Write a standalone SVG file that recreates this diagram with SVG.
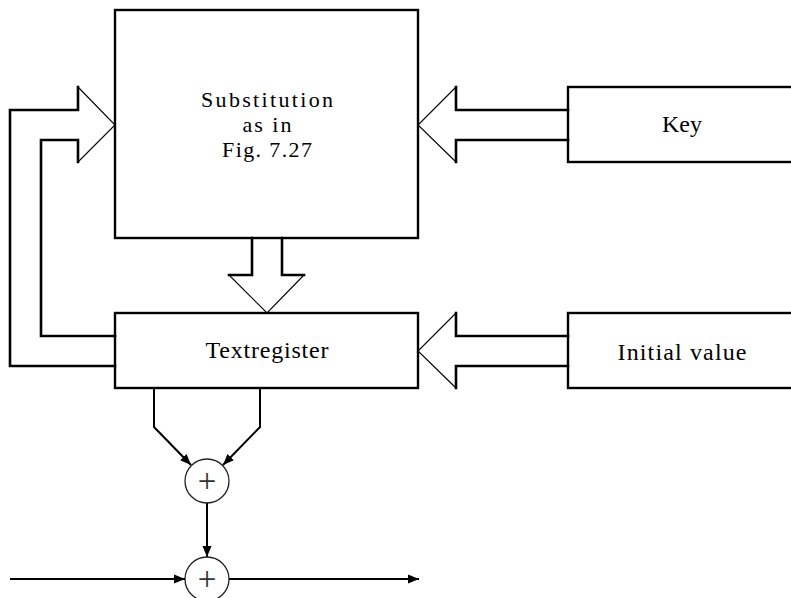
<svg xmlns="http://www.w3.org/2000/svg" width="791" height="598" viewBox="0 0 791 598">
<style>
.box{fill:#fff;stroke:#000;stroke-width:2.4}
.thick{fill:none;stroke:#000;stroke-width:2.6;stroke-linecap:square}
.thin{fill:none;stroke:#000;stroke-width:1.1}
.line{fill:none;stroke:#000;stroke-width:2}
.circ{fill:#fff;stroke:#222;stroke-width:1.3}
.lbl{font-family:"Liberation Serif","Times New Roman",serif;font-size:22px;fill:#000;text-anchor:middle}
.big{font-size:24px}
.plus{font-family:"Liberation Serif","Times New Roman",serif;font-size:33px;fill:#333;text-anchor:middle}
</style>
<defs>
<marker id="ah" markerWidth="12" markerHeight="10" refX="11" refY="5" orient="auto" markerUnits="userSpaceOnUse">
<path d="M0,0.5 L11,5 L0,9.5 Z" fill="#000"/>
</marker>
</defs>
<rect width="791" height="598" fill="#fff"/>
<g id="substitution">
<rect class="box" x="115" y="10" width="303" height="228"/>
<text class="lbl" x="267" y="107" textLength="132" lengthAdjust="spacing">Substitution</text>
<text class="lbl" x="267" y="132" textLength="49" lengthAdjust="spacing">as in</text>
<text class="lbl" x="267" y="157" textLength="90" lengthAdjust="spacing">Fig. 7.27</text>
</g>
<g id="key">
<rect class="box" x="568" y="87" width="240" height="75"/>
<text class="lbl big" x="682" y="132" textLength="40" lengthAdjust="spacing">Key</text>
</g>
<g id="textregister">
<rect class="box" x="115" y="313" width="303" height="75"/>
<text class="lbl big" x="267" y="358" textLength="123" lengthAdjust="spacing">Textregister</text>
</g>
<g id="initial">
<rect class="box" x="568" y="313" width="240" height="75"/>
<text class="lbl big" x="682" y="360" textLength="129" lengthAdjust="spacing">Initial value</text>
</g>
<g id="xor1">
<circle class="circ" cx="207" cy="481" r="22"/>
<text class="plus" x="207" y="492">+</text>
</g>
<g id="xor2">
<circle class="circ" cx="207" cy="579" r="22"/>
<text class="plus" x="207" y="590">+</text>
</g>
<g id="connectors">
<polyline class="thick" points="115,366 10,366 10,110 78,110 78,87"/>
<polyline class="thick" points="115,336 41,336 41,140 78,140 78,162"/>
<polyline class="thin" points="78,87 115,125 78,162"/>
<polyline class="thick" points="568,110 456,110 456,87"/>
<polyline class="thick" points="568,140 456,140 456,162"/>
<polyline class="thin" points="456,87 418,125 456,162"/>
<polyline class="thick" points="568,336 456,336 456,313"/>
<polyline class="thick" points="568,366 456,366 456,388"/>
<polyline class="thin" points="456,313 418,351 456,388"/>
<polyline class="thick" points="252,238 252,275 229,275"/>
<polyline class="thick" points="282,238 282,275 304,275"/>
<polyline class="thin" points="229,275 267,313 304,275"/>
<polyline class="line" points="154,388 154,427 191,465" marker-end="url(#ah)"/>
<polyline class="line" points="260,388 260,427 223,465" marker-end="url(#ah)"/>
<line class="line" x1="207" y1="503" x2="207" y2="557" marker-end="url(#ah)"/>
<line class="line" x1="10" y1="579" x2="185" y2="579" marker-end="url(#ah)"/>
<line class="line" x1="229" y1="579" x2="419" y2="579" marker-end="url(#ah)"/>
</g>
</svg>
